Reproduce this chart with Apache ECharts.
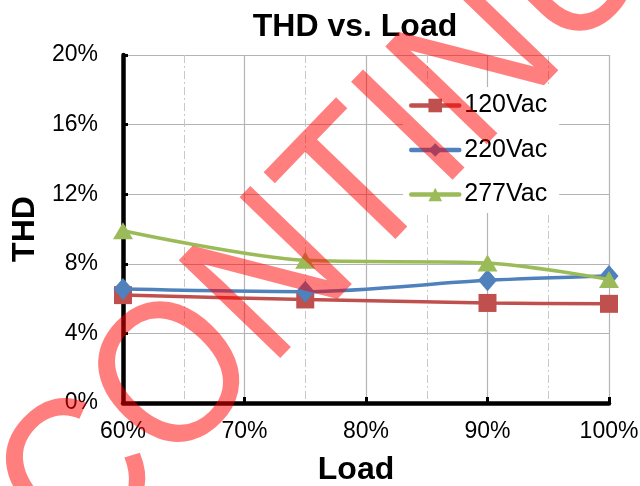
<!DOCTYPE html>
<html>
<head>
<meta charset="utf-8">
<script src="https://cdn.jsdelivr.net/npm/echarts@6/dist/echarts.min.js"></script>
<style>
  html, body { margin: 0; padding: 0; background: #fff; }
  #main { width: 640px; height: 486px; }
</style>
</head>
<body>
<div id="main"></div>
<script>
// 数据
var loads = [60, 75, 90, 100];
var thd120 = [6.2, 5.95, 5.75, 5.7];
var thd220 = [6.55, 6.4, 7.05, 7.3];
var thd277 = [9.9, 8.2, 8.05, 7.1];
var seriesNames = ['120Vac', '220Vac', '277Vac'];

var font = '"Liberation Sans", Arial, sans-serif';

function pairs(ys) {
    return loads.map(function (x, i) { return [x, ys[i]] });
}

var myChart = echarts.init(document.getElementById('main'));

var option = {
    backgroundColor: '#fff',
    animation: false,
    textStyle: { fontFamily: font },
    title: {
        text: 'THD vs. Load',
        left: 350,
        textAlign: 'center',
        top: 6,
        textStyle: { fontSize: 32, fontWeight: 'bold', color: '#000', fontFamily: font }
    },
    legend: {
        orient: 'vertical',
        left: 403,
        top: 87,
        itemWidth: 48,
        itemHeight: 17,
        itemGap: 19.5,
        padding: [6, 12, 6, 6],
        backgroundColor: '#fff',
        lineStyle: { width: 4.5, cap: 'round' },
        textStyle: { fontSize: 25, color: '#000', fontFamily: font },
        data: seriesNames
    },
    grid: { left: 123, right: 31, top: 55, bottom: 83, outerBoundsMode: 'none' },
    xAxis: {
        type: 'value',
        min: 60,
        max: 100,
        interval: 10,
        name: 'Load',
        nameLocation: 'middle',
        nameGap: 51,
        nameTextStyle: { fontSize: 32, fontWeight: 'bold', color: '#000', fontFamily: font, padding: [0, 20, 0, 0] },
        axisLine: { show: true, lineStyle: { color: '#000', width: 4.5 } },
        axisTick: { show: true, inside: true, length: 6, lineStyle: { color: '#000', width: 3 } },
        axisLabel: { fontSize: 23, color: '#000', margin: 17, formatter: '{value}%' },
        splitLine: { show: true, lineStyle: { color: '#b4b4b4', width: 1.2 } },
        minorTick: { show: false, splitNumber: 2 },
        minorSplitLine: { show: true, lineStyle: { color: '#c8c8c8', width: 1, type: [8, 3, 2, 3] } }
    },
    yAxis: {
        type: 'value',
        min: 0,
        max: 20,
        interval: 4,
        name: 'THD',
        nameLocation: 'middle',
        nameGap: 78,
        nameTextStyle: { fontSize: 32, fontWeight: 'bold', color: '#000', fontFamily: font },
        axisLine: { show: true, lineStyle: { color: '#000', width: 4.5 } },
        axisTick: { show: true, inside: true, length: 5, lineStyle: { color: '#000', width: 3 } },
        axisLabel: { fontSize: 23, color: '#000', margin: 25, formatter: '{value}%' },
        splitLine: { show: true, lineStyle: { color: '#b4b4b4', width: 1.2 } }
    },
    series: [
        {
            name: seriesNames[0],
            type: 'line',
            smooth: 0.3,
            data: pairs(thd120),
            symbol: 'rect',
            symbolSize: 18,
            itemStyle: { color: '#C0504D' },
            lineStyle: { color: '#C0504D', width: 3.5 },
            z: 3
        },
        {
            name: seriesNames[1],
            type: 'line',
            smooth: 0.3,
            data: pairs(thd220),
            symbol: 'diamond',
            symbolSize: [19, 22],
            itemStyle: { color: '#4F81BD' },
            lineStyle: { color: '#4F81BD', width: 3.5 },
            z: 4
        },
        {
            name: seriesNames[2],
            type: 'line',
            smooth: 0.3,
            data: pairs(thd277),
            symbol: 'triangle',
            symbolSize: [20, 17],
            itemStyle: { color: '#9BBB59' },
            lineStyle: { color: '#9BBB59', width: 3.5 },
            z: 5
        }
    ],
    // 水印
    graphic: [
        {
            type: 'text',
            x: 311,
            y: 245,
            rotation: 46 * Math.PI / 180,
            scaleX: 0.9,
            z: 100,
            silent: true,
            style: {
                text: 'DISCONTINUED',
                fontSize: 205,
                fontFamily: font,
                fill: 'rgba(255, 0, 0, 0.5)',
                align: 'center',
                verticalAlign: 'middle'
            }
        }
    ]
};

myChart.setOption(option);
</script>
</body>
</html>
